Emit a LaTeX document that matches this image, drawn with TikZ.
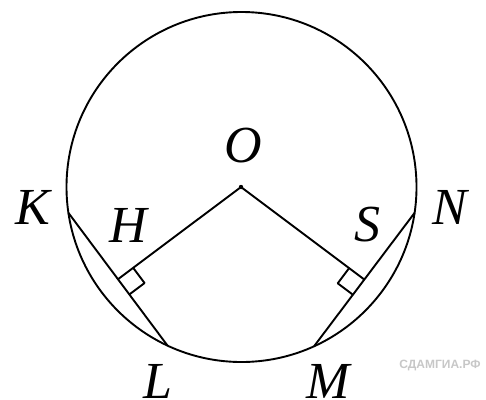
\documentclass[tikz,border=0pt]{standalone}
\usepackage{fontspec}
\setmainfont{Liberation Serif}
\newfontfamily\wmfont{Liberation Sans}
\usetikzlibrary{calc}
\begin{document}
\begin{tikzpicture}[x=1pt,y=-1pt,
  geo/.style={line width=1.9pt, line join=round},
  lbl/.style={inner sep=0pt, font=\fontsize{52}{60}\selectfont\itshape},
  wm/.style={inner sep=0pt, text=black!22, font=\wmfont\bfseries\fontsize{12}{12}\selectfont}]
\useasboundingbox (0,0) rectangle (486,399);
\coordinate (O) at (241,187);
\coordinate (K) at ($(241.5,187)+(188.5:175pt)$);
\coordinate (L) at ($(241.5,187)+(245:175pt)$);
\coordinate (M) at ($(241.5,187)+(294.5:175pt)$);
\coordinate (N) at ($(241.5,187)+(351.5:175pt)$);
\draw[geo] (241.5,187) circle[radius=175pt];
\coordinate (H) at ($(K)!0.5!(L)$);
\coordinate (S) at ($(M)!0.5!(N)$);
\draw[geo] (K) -- (L);
\draw[geo] (M) -- (N);
\draw[geo] (H) -- (O) -- (S);
\fill (O) circle[radius=2.2pt];
% right angle marks
\coordinate (H1) at ($(H)!19pt!(O)$);
\coordinate (H2) at ($(H)!19pt!(L)$);
\coordinate (S1) at ($(S)!19pt!(O)$);
\coordinate (S2) at ($(S)!19pt!(M)$);
\draw[geo] (H1) -- ($(H1)+(H2)-(H)$) -- (H2);
\draw[geo] (S1) -- ($(S1)+(S2)-(S)$) -- (S2);
% labels
\node[lbl] (lO) at (243,146) {O};
\node[lbl] (lK) at (33,207) {K};
\node[lbl] (lH) at (128,225) {H};
\node[lbl] (lS) at (367,225) {S};
\node[lbl] (lN) at (450,207) {N};
\node[lbl] (lL) at (158,381) {L};
\node[lbl] (lM) at (328,381) {M};
\node[wm] (w) at (440,365) {СДАМГИА.РФ};
\end{tikzpicture}
\end{document}
